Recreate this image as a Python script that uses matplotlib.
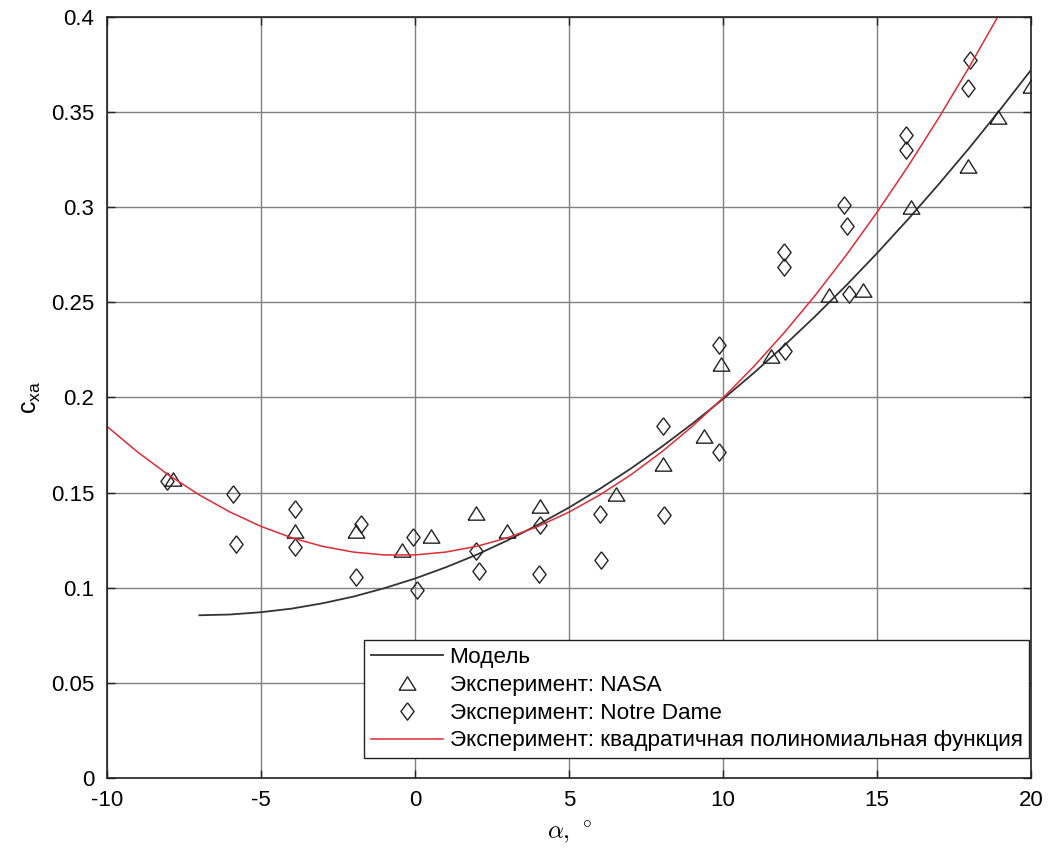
import matplotlib
matplotlib.use("Agg")
import matplotlib.pyplot as plt

plt.rcParams['font.family'] = ['Liberation Sans', 'DejaVu Sans']

# model curve
model_x = [-7, -6, -5, -4, -3, -2, -1, 0, 1, 2, 3, 4, 5, 6, 7, 8, 9, 10,
           11, 12, 13, 14, 15, 16, 17, 18, 19, 20]
model_y = [0.0855, 0.0859, 0.0871, 0.0890, 0.0918, 0.0953, 0.0997, 0.1048,
           0.1107, 0.1173, 0.1248, 0.1331, 0.1421, 0.1519, 0.1625, 0.1739,
           0.1861, 0.1991, 0.2128, 0.2274, 0.2427, 0.2588, 0.2757, 0.2934,
           0.3119, 0.3311, 0.3512, 0.3720]

# quadratic fit curve
fit_x = [-10, -9, -8, -7, -6, -5, -4, -3, -2, -1, 0, 1, 2, 3, 4, 5, 6, 7,
         8, 9, 10, 11, 12, 13, 14, 15, 16, 17, 18, 19]
fit_y = [0.1847, 0.1712, 0.1592, 0.1487, 0.1397, 0.1322, 0.1262, 0.1217,
         0.1187, 0.1172, 0.1172, 0.1187, 0.1217, 0.1262, 0.1322, 0.1397,
         0.1487, 0.1592, 0.1712, 0.1847, 0.1997, 0.2162, 0.2342, 0.2537,
         0.2747, 0.2972, 0.3212, 0.3467, 0.3737, 0.4022]

# NASA experiment
nasa_x = [-7.87, -3.9, -1.93, -0.43, 0.52, 1.99, 3.0, 4.06, 6.54, 8.04,
          9.39, 9.92, 11.55, 13.45, 14.56, 16.09, 17.96, 18.92, 19.99]
nasa_y = [0.157, 0.130, 0.130, 0.120, 0.127, 0.139, 0.130, 0.143, 0.149,
          0.165, 0.1795, 0.2177, 0.2215, 0.254, 0.2566, 0.300, 0.3214,
          0.3473, 0.3635]

# Notre Dame experiment
nd_x = [-8.06, -5.9, -5.82, -3.89, -3.89, -1.76, -1.92, -0.05, 0.06, 1.99,
        2.08, 4.07, 4.03, 6.0, 6.04, 8.06, 8.09, 9.87, 9.87, 12.01, 11.97,
        11.97, 14.09, 13.94, 14.02, 15.94, 15.94, 17.96, 18.02]
nd_y = [0.156, 0.149, 0.1227, 0.1413, 0.1215, 0.1334, 0.1055, 0.1266,
        0.0988, 0.1195, 0.1085, 0.133, 0.107, 0.1388, 0.1145, 0.185,
        0.1384, 0.1712, 0.2276, 0.2246, 0.2764, 0.2683, 0.2543, 0.3009,
        0.290, 0.3376, 0.330, 0.3626, 0.3775]

# matlab-like marker shapes
tri = [(-1, -0.8), (1, -0.8), (0, 0.8), (-1, -0.8)]
dia = [(0, 1), (0.76, 0), (0, -1), (-0.76, 0), (0, 1)]

fig = plt.figure(figsize=(10.53, 8.57), dpi=100)
ax = fig.add_axes([0.1016, 0.0922, 0.8775, 0.8883])

ax.plot(model_x, model_y, color='#333333', lw=1.3, label='Модель')
ax.plot(nasa_x, nasa_y, ls='none', marker=tri, ms=12, mfc='none',
        mec='#222222', mew=1.0, label='Эксперимент: NASA')
ax.plot(nd_x, nd_y, ls='none', marker=dia, ms=12.5, mfc='none',
        mec='#222222', mew=1.0, label='Эксперимент: Notre Dame')
ax.plot(fit_x, fit_y, color='#e02b35', lw=1.1,
        label='Эксперимент: квадратичная полиномиальная функция')

ax.set_xlim(-10, 20)
ax.set_ylim(0, 0.4)
ax.set_xticks([-10, -5, 0, 5, 10, 15, 20])
ax.set_yticks([0, 0.05, 0.1, 0.15, 0.2, 0.25, 0.3, 0.35, 0.4])
ax.set_xticklabels(['-10', '-5', '0', '5', '10', '15', '20'])
ax.set_yticklabels(['0', '0.05', '0.1', '0.15', '0.2', '0.25', '0.3', '0.35', '0.4'])
ax.tick_params(direction='in', top=True, right=True, labelsize=16, length=6,
               width=1, color='#222222', pad=9)
ax.grid(True, color='#808080', lw=1.0)
ax.set_axisbelow(True)
for s in ax.spines.values():
    s.set_color('#222222')
    s.set_linewidth(1.2)

ax.set_xlabel(r'$\alpha,\,^\circ$', fontsize=18, math_fontfamily='cm', labelpad=6)
ax.set_ylabel(r'c$_\mathregular{xa}$', fontsize=18, labelpad=6)

leg = ax.legend(loc='lower right', bbox_to_anchor=(0.998, 0.026), fontsize=16.2,
                frameon=True, fancybox=False, framealpha=1, edgecolor='#222222',
                handlelength=3.2, handletextpad=0.3, borderpad=0.3,
                labelspacing=0.3, borderaxespad=0)
leg.get_frame().set_linewidth(1.0)

fig.savefig('out.png', dpi=100)
